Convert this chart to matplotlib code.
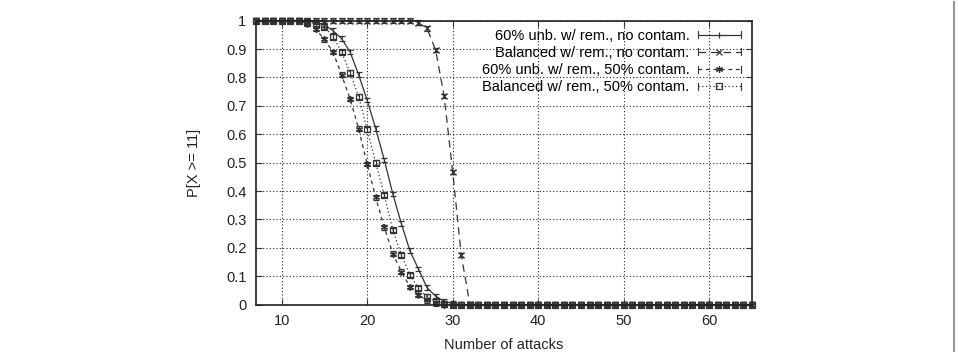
import numpy as np
import matplotlib
matplotlib.use('Agg')
import matplotlib.pyplot as plt
from matplotlib.lines import Line2D
from matplotlib.legend_handler import HandlerLine2D

plt.rcParams['font.family'] = ['Liberation Sans', 'DejaVu Sans']
plt.rcParams['font.size'] = 10

# number of attacks
attacks = np.arange(7, 66)

# P[X >= 11] per scenario
unb_nocont = [1.0] * 7 + [0.995, 0.985, 0.965, 0.937, 0.89, 0.81, 0.72, 0.62, 0.51,
                          0.39, 0.285, 0.19, 0.125, 0.06, 0.03, 0.012, 0.004] + [0.0] * 35
bal_nocont = [1.0] * 19 + [0.993, 0.973, 0.897, 0.735, 0.468, 0.175, 0.003] + [0.0] * 33
unb_cont = [1.0] * 6 + [0.99, 0.97, 0.934, 0.89, 0.81, 0.725, 0.62, 0.495, 0.378,
                        0.272, 0.18, 0.116, 0.063, 0.034, 0.015, 0.005] + [0.0] * 37
bal_cont = [1.0] * 6 + [0.997, 0.99, 0.979, 0.944, 0.89, 0.817, 0.733, 0.617, 0.50,
                        0.386, 0.263, 0.175, 0.105, 0.058, 0.028, 0.012, 0.004] + [0.0] * 36

labels = ['60% unb. w/ rem., no contam.',
          'Balanced w/ rem., no contam.',
          '60% unb. w/ rem., 50% contam.',
          'Balanced w/ rem., 50% contam.']

ERR = 0.008
C = '#333333'


class CapHandler(HandlerLine2D):
    # gnuplot-like key sample: line with small caps at both ends
    def create_artists(self, legend, orig_handle, xdescent, ydescent,
                       width, height, fontsize, trans):
        arts = super().create_artists(legend, orig_handle, xdescent, ydescent,
                                      width, height, fontsize, trans)
        y = (height - ydescent) / 2
        for x in (-xdescent, width - xdescent):
            cap = Line2D([x, x], [y - 2.5, y + 2.5], color=C, lw=0.8)
            cap.set_transform(trans)
            arts.append(cap)
        return arts


fig = plt.figure(figsize=(9.58, 3.52), dpi=100)
ax = fig.add_axes([0.2672, 0.1344, 0.785 - 0.2672, 0.9412 - 0.1344])

styles = [
    dict(ls='-', marker='', ms=0),
    dict(ls=(0, (6, 4)), marker='x', ms=4.5),
    dict(ls=(0, (3, 3)), marker=(6, 2, 0), ms=5),
    dict(ls=(0, (1, 2)), marker='s', ms=5, mfc='none'),
]
series = [unb_nocont, bal_nocont, unb_cont, bal_cont]

handles = []
for ys, lab, st in zip(series, labels, styles):
    ys = np.array(ys)
    eb = ax.errorbar(attacks, ys, yerr=ERR, color=C, lw=0.9, elinewidth=0.8,
                     capsize=2, capthick=0.8, mew=0.9, **st)
    for art in eb.lines[1] + eb.lines[2]:
        art.set_clip_on(False)
    eb.lines[0].set_clip_on(False)
    key = dict(st)
    if key['marker'] == '':
        key['marker'] = '|'
        key['ms'] = 5
    handles.append(Line2D([], [], color=C, lw=0.9, mew=0.9, label=lab, **key))

ax.set_xlim(7, 65)
ax.set_ylim(0, 1)
ax.set_xticks([10, 20, 30, 40, 50, 60])
ax.set_yticks(np.round(np.arange(0, 1.01, 0.1), 1))
ax.set_yticklabels(['0', '0.1', '0.2', '0.3', '0.4', '0.5', '0.6', '0.7', '0.8', '0.9', '1'])
ax.grid(True, ls=(0, (1, 2)), color='#222222', lw=0.8)
ax.tick_params(direction='in', length=4, top=True, right=True, colors=C,
               labelcolor='#222222', labelsize=10.5, pad=7)
for sp in ax.spines.values():
    sp.set_color('#222222')
    sp.set_linewidth(1.2)
ax.set_xlabel('Number of attacks', color='#222222', labelpad=7, fontsize=10.5)
ax.set_ylabel('P[X >= 11]', color='#222222', labelpad=18, fontsize=10.5)

ax.legend(handles=handles, loc='upper right', frameon=False, markerfirst=False,
          handlelength=2.9, labelspacing=0.22, handletextpad=0.6, borderaxespad=0.15,
          fontsize=10.5, bbox_to_anchor=(0.993, 1.0),
          handler_map={Line2D: CapHandler()})

fig.add_artist(Line2D([0.9958, 0.9958], [0, 0.995], transform=fig.transFigure,
                      color='#999999', lw=1.5))

fig.savefig('out.png', dpi=100)
